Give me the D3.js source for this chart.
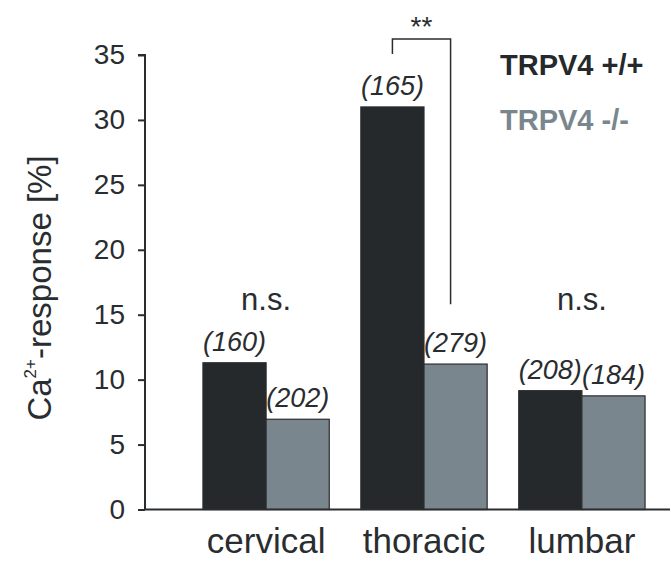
<!DOCTYPE html>
<html>
<head>
<meta charset="utf-8">
<script src="https://cdn.jsdelivr.net/npm/d3@7"></script>
<style>
  html, body { margin: 0; padding: 0; background: #ffffff; }
  svg { display: block; font-family: "Liberation Sans", Arial, sans-serif; }
</style>
</head>
<body>
<svg id="chart" width="671" height="561"></svg>
<script>
// Spinal level groups and genotype series
const categories = ["cervical", "thoracic", "lumbar"];
const seriesNames = ["TRPV4 +/+", "TRPV4 -/-"];
const wildType = [11.3, 31.0, 9.15];     // % Ca2+-responsive cells, TRPV4 +/+
const knockOut = [6.95, 11.2, 8.75];     // % Ca2+-responsive cells, TRPV4 -/-
const cellCountsWT = ["(160)", "(165)", "(208)"];
const cellCountsKO = ["(202)", "(279)", "(184)"];
const significance = ["n.s.", "**", "n.s."];
const yTicks = [0, 5, 10, 15, 20, 25, 30, 35];

const colors = ["#25292c", "#7a868e"];
const ink = "#2a2d30";

const svg = d3.select("#chart");
const axisX = 145, baseY = 509.5, topY = 55;

const y = d3.scaleLinear().domain([0, 35]).range([baseY, topY]);
const x0 = d3.scaleBand().domain(categories).range([axisX, 703])
  .paddingInner(0.2).paddingOuter(0.367);
const x1 = d3.scaleBand().domain(seriesNames).range([0, x0.bandwidth()]);

const rows = categories.map((c, i) => ({
  cat: c,
  bars: [
    { s: seriesNames[0], v: wildType[i], n: cellCountsWT[i] },
    { s: seriesNames[1], v: knockOut[i], n: cellCountsKO[i] }
  ],
  sig: significance[i]
}));

// Bars
const groups = svg.append("g").selectAll("g").data(rows).join("g")
  .attr("transform", d => `translate(${x0(d.cat)},0)`);

groups.selectAll("rect").data(d => d.bars).join("rect")
  .attr("x", d => x1(d.s))
  .attr("y", d => y(d.v))
  .attr("width", x1.bandwidth())
  .attr("height", d => y(0) - y(d.v))
  .attr("fill", (d, i) => colors[i])
  .attr("stroke", ink)
  .attr("stroke-width", 1.2);

// Cell counts above each bar
groups.selectAll("text.count").data(d => d.bars).join("text")
  .attr("class", "count")
  .attr("x", d => x1(d.s) + x1.bandwidth() / 2)
  .attr("y", d => y(d.v) - 12)
  .attr("text-anchor", "middle")
  .attr("font-size", 27)
  .attr("font-style", "italic")
  .attr("fill", "#2a2d30")
  .text(d => d.n);

// Non-significant markers
rows.forEach(r => {
  if (r.sig === "n.s.") {
    svg.append("text")
      .attr("x", x0(r.cat) + x0.bandwidth() / 2)
      .attr("y", 310)
      .attr("text-anchor", "middle")
      .attr("font-size", 31)
      .attr("fill", "#2a2d30")
      .text(r.sig);
  }
});

// Significance bracket for thoracic
const th = rows[1];
const bx1 = x0(th.cat) + x1(seriesNames[0]) + x1.bandwidth() / 2;
const bx2 = x0(th.cat) + x1(seriesNames[1]) + x1.bandwidth() / 2 - 5;
const bTop = 39;
svg.append("path")
  .attr("d", `M${bx1},${y(35) - 1} V${bTop} H${bx2} V${y(15.8)}`)
  .attr("fill", "none")
  .attr("stroke", ink)
  .attr("stroke-width", 1.5);
svg.append("text")
  .attr("x", (bx1 + bx2) / 2)
  .attr("y", 36)
  .attr("text-anchor", "middle")
  .attr("font-size", 28)
  .attr("fill", "#2a2d30")
  .text(th.sig);

// Y axis
const yAxis = d3.axisLeft(y).tickValues(yTicks).tickSize(7).tickPadding(13);
const gy = svg.append("g").attr("transform", `translate(${axisX},0)`).call(yAxis);
gy.select(".domain").attr("d", `M-7,${topY}H0V${baseY}`).attr("stroke", ink).attr("stroke-width", 2);
gy.selectAll(".tick line").attr("stroke", ink).attr("stroke-width", 2);
gy.selectAll(".tick text")
  .attr("font-size", 28)
  .attr("font-family", "Liberation Sans, Arial, sans-serif")
  .attr("fill", "#2a2d30");

// Baseline
svg.append("line")
  .attr("x1", axisX).attr("x2", 670)
  .attr("y1", baseY).attr("y2", baseY)
  .attr("stroke", ink).attr("stroke-width", 2);

// Category labels
svg.append("g").selectAll("text").data(categories).join("text")
  .attr("x", d => x0(d) + x0.bandwidth() / 2)
  .attr("y", 553)
  .attr("text-anchor", "middle")
  .attr("font-size", 35)
  .attr("fill", "#2a2d30")
  .text(d => d);

// Y title
const yt = svg.append("text")
  .attr("transform", "translate(51,288) rotate(-90)")
  .attr("text-anchor", "middle")
  .attr("font-size", 33)
  .attr("fill", "#2a2d30");
yt.append("tspan").text("Ca");
yt.append("tspan").attr("font-size", 17).attr("dy", -15).text("2+");
yt.append("tspan").attr("dy", 15).text("-response [%]");

// Legend
const legend = svg.append("g");
seriesNames.forEach((s, i) => {
  legend.append("text")
    .attr("x", 500)
    .attr("y", 75 + i * 55)
    .attr("font-size", 29)
    .attr("font-weight", "bold")
    .attr("fill", colors[i])
    .text(s);
});
</script>
</body>
</html>
